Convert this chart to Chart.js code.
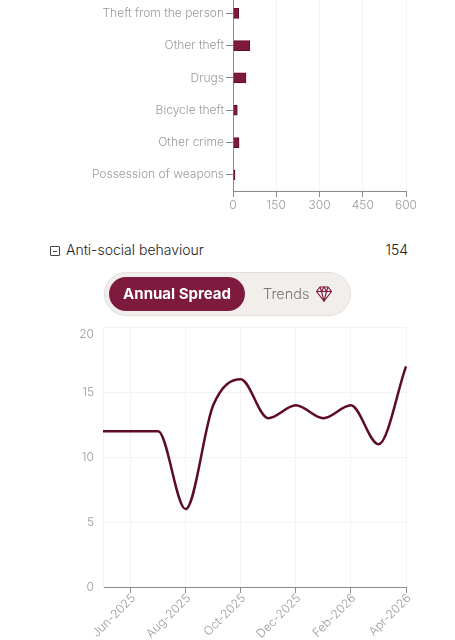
<!DOCTYPE html>
<html>
<head>
<meta charset="utf-8">
<script src="https://cdn.jsdelivr.net/npm/chart.js@4/dist/chart.umd.min.js"></script>
<style>
    html, body { margin: 0; padding: 0; background: #fff; overflow: hidden; }
    body { width: 455px; height: 640px; position: relative; font-family: Inter, sans-serif; font-weight: 300; }
    #barWrap { position: absolute; left: 0; top: -12px; width: 455px; height: 233px; }
    #lineWrap { position: absolute; left: 0; top: 304px; width: 455px; height: 336px; }
    .fila { position: absolute; left: 66px; top: 241px; font-size: 14px; color: #222; line-height: 18px; }
    .total { position: absolute; right: 47px; top: 241px; font-size: 14px; color: #222; line-height: 18px; }
    .caja { position: absolute; left: 50px; top: 246px; width: 8px; height: 8px; border: 1px solid #444; border-radius: 1px; }
    .caja::after { content: ''; position: absolute; left: 2px; right: 2px; top: 3.5px; height: 1px; background: #444; }
    .pill { position: absolute; left: 104px; top: 272px; width: 245px; height: 42px; background: #f1eeec; border: 1px solid #e4dfdc; border-radius: 22px; }
    .pill .on { position: absolute; left: 4px; top: 4px; width: 136px; height: 34px; background: #7f1a3f; border-radius: 17px; color: #fff; font-weight: 700; font-size: 15px; line-height: 34px; text-align: center; }
    .pill .off { position: absolute; left: 158px; top: 4px; color: #777; font-size: 14.5px; line-height: 34px; }
    .pill svg { position: absolute; left: 211px; top: 13px; }
</style>
</head>
<body>
<div id="barWrap"><canvas id="barChart"></canvas></div>
<div id="lineWrap"><canvas id="lineChart"></canvas></div>
<div class="caja"></div>
<div class="fila">Anti-social behaviour</div>
<div class="total">154</div>
<div class="pill">
    <div class="on">Annual Spread</div>
    <div class="off">Trends</div>
    <svg width="16" height="16" viewBox="0 0 16 16" fill="none" stroke="#7f1a3f" stroke-width="1.1">
        <path d="M4 1h8l3.500 4.500L8 15 .5 5.500z"/>
        <path d="M.5 5.500h15M4 1l1.500 4.500L8 15l2.500-9.500L12 1M5.500 5.500L8 1l2.500 4.500"/>
    </svg>
</div>
<script>
// Datos
const barCategories = ['Theft from the person', 'Other theft', 'Drugs', 'Bicycle theft', 'Other crime', 'Possession of weapons'];
const barValues = [20, 58, 45, 15, 21, 7];
const barTicks = [0, 150, 300, 450, 600];

const months = ['May-2025', 'Jun-2025', 'Jul-2025', 'Aug-2025', 'Sep-2025', 'Oct-2025', 'Nov-2025', 'Dec-2025', 'Jan-2026', 'Feb-2026', 'Mar-2026', 'Apr-2026'];
const lineValues = [12, 12, 12, 6, 14, 16, 13, 14, 13, 14, 11, 17];
const lineTicks = [0, 5, 10, 15, 20];

const TICK_COLOR = '#9a9a9a';
const AXIS_COLOR = '#8a8a8a';
const GRID_COLOR = '#f3f3f3';
const FONT = { family: 'Inter', size: 12, weight: '300' };

Chart.defaults.animation = false;
Chart.defaults.responsive = true;
Chart.defaults.maintainAspectRatio = false;
Chart.defaults.devicePixelRatio = 1;

new Chart(document.getElementById('barChart'), {
    type: 'bar',
    data: {
        labels: barCategories,
        datasets: [{
            data: barValues,
            backgroundColor: '#7f1a3f',
            borderColor: '#5e0b2b',
            borderWidth: 1,
            barThickness: 10
        }]
    },
    options: {
        indexAxis: 'y',
        layout: { padding: { top: 0, right: 49, bottom: 0, left: 0 } },
        plugins: { legend: { display: false }, tooltip: { enabled: false } },
        scales: {
            x: {
                min: 0,
                max: 600,
                afterBuildTicks: s => { s.ticks = barTicks.map(v => ({ value: v })); },
                afterFit: s => { s.height = 30; },
                ticks: { color: TICK_COLOR, font: FONT, maxRotation: 0, padding: 1 },
                grid: { color: GRID_COLOR, tickColor: AXIS_COLOR, tickLength: 6 },
                border: { color: AXIS_COLOR, width: 1 }
            },
            y: {
                afterFit: s => { s.width = 233; },
                ticks: { color: TICK_COLOR, font: FONT, padding: 2 },
                grid: { offset: false, drawOnChartArea: false, tickColor: AXIS_COLOR, tickLength: 7 },
                border: { color: AXIS_COLOR, width: 1 }
            }
        }
    }
});

new Chart(document.getElementById('lineChart'), {
    type: 'line',
    data: {
        labels: months,
        datasets: [{
            data: lineValues,
            borderColor: '#5e0b2b',
            borderWidth: 2.5,
            cubicInterpolationMode: 'monotone',
            pointRadius: 0,
            fill: false,
            clip: false
        }]
    },
    options: {
        layout: { padding: { top: 4, right: 49, bottom: 0, left: 0 } },
        plugins: { legend: { display: false }, tooltip: { enabled: false } },
        scales: {
            x: {
                offset: false,
                afterFit: s => { s.height = 53; },
                ticks: {
                    autoSkip: false,
                    color: TICK_COLOR,
                    font: FONT,
                    maxRotation: 45,
                    minRotation: 45,
                    padding: -2,
                    labelOffset: 3,
                    // solo los meses pares, como en la original
                    callback: function (v, i) { return i % 2 === 1 ? this.getLabelForValue(v) : null; }
                },
                grid: { color: GRID_COLOR, tickColor: AXIS_COLOR, tickLength: 6 },
                border: { color: AXIS_COLOR, width: 1 }
            },
            y: {
                min: 0,
                max: 20,
                afterBuildTicks: s => { s.ticks = lineTicks.map(v => ({ value: v })); },
                afterFit: s => { s.width = 103; },
                ticks: {
                    color: TICK_COLOR,
                    font: FONT,
                    padding: 9,
                    // el "20" va un poco más abajo que su línea en la original
                    callback: v => v === 20 ? ['', String(v)] : String(v)
                },
                grid: { color: GRID_COLOR, drawTicks: false },
                border: { color: GRID_COLOR, width: 1 }
            }
        }
    }
});
</script>
</body>
</html>
